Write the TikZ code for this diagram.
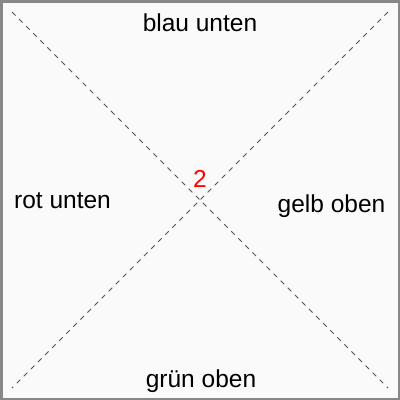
\documentclass[tikz,border=0pt]{standalone}
\usepackage{fontspec}
\setmainfont{Liberation Sans}
\definecolor{bgc}{HTML}{FAFAFA}
\definecolor{framec}{HTML}{888888}
\definecolor{linec}{HTML}{555555}
\tikzset{
  lbl/.style={anchor=base, inner sep=0pt, font=\fontsize{24.5}{29}\selectfont},
  diag/.style={draw=linec, line width=0.9pt, dash pattern=on 5pt off 5pt}
}
\begin{document}
\begin{tikzpicture}[x=1pt,y=-1pt]
\useasboundingbox (0,0) rectangle (400,400);
\fill[bgc] (0,0) rectangle (400,400);
\draw[framec, line width=2.5pt] (1.25,1.25) rectangle (398.75,398.75);
\coordinate (tl) at (12,12);
\coordinate (br) at (388,388);
\coordinate (tr) at (388,12);
\coordinate (bl) at (12,388);
\draw[diag] (tl) -- (br);
\draw[diag] (tr) -- (bl);
\node[lbl] (blau) at (200,31) {blau unten};
\node[lbl] (rot) at (62.5,208) {rot unten};
\node[lbl] (gelb) at (331.5,212) {gelb oben};
\node[lbl] (gruen) at (201,387) {grün oben};
\node[lbl, text=red] (zwei) at (200,187) {2};
\end{tikzpicture}
\end{document}
